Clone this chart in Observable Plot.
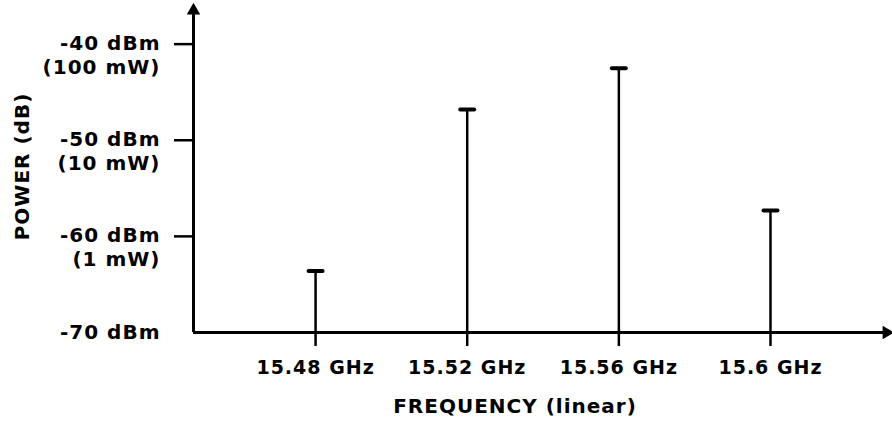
<!DOCTYPE html>
<html><head><meta charset="utf-8">
<script src="https://cdn.jsdelivr.net/npm/d3@7"></script>
<script src="https://cdn.jsdelivr.net/npm/@observablehq/plot@0.6"></script>
<style>
html,body{margin:0;padding:0;background:#fff}
svg text{letter-spacing:1px}
</style>
</head><body><div id="chart"></div>
<script>
const frequencies = [15.48, 15.52, 15.56, 15.6];
const powers = [-63.6, -46.8, -42.5, -57.3];
const xTickLabels = ["15.48 GHz", "15.52 GHz", "15.56 GHz", "15.6 GHz"];
const yTicks = [-40, -50, -60, -70];
const yTickLabels = ["-40 dBm\n(100 mW)", "-50 dBm\n(10 mW)", "-60 dBm\n(1 mW)", "-70 dBm"];
const xDomain = [15.4478, 15.6306];
const yDomain = [-70, -36.5];
const xLabel = "FREQUENCY (linear)";
const yLabel = "POWER (dB)";

const lines = frequencies.map((f, i) => ({freq: f, power: powers[i]}));
const yLabelRows = yTicks.map((v, i) => ({value: v, label: yTickLabels[i]}));
const capSymbol = {draw(ctx, size) { const r = Math.sqrt(size / Math.PI); ctx.moveTo(-r, 0); ctx.lineTo(r, 0); }};

const chart = Plot.plot({
  width: 892, height: 432,
  marginLeft: 193, marginRight: 6, marginTop: 10, marginBottom: 100,
  style: {fontFamily: "DejaVu Sans", fontWeight: "bold", color: "#000", background: "#fff", overflow: "visible"},
  x: {domain: xDomain},
  y: {domain: yDomain},
  marks: [
    Plot.axisY(yTicks.filter(d => d !== yDomain[0]), {tickSize: 19, strokeWidth: 2.5, tickFormat: () => "", label: null}),
    Plot.text(yLabelRows, {x: () => xDomain[0], y: "value", text: "label", textAnchor: "end", dx: -33,
      lineAnchor: "top", lineHeight: 1.2, dy: -11, fontSize: 20, fontWeight: "bold"}),
    Plot.axisX(frequencies, {tickSize: 14, strokeWidth: 2.5, tickPadding: 14, fontSize: 19,
      tickFormat: d => xTickLabels[frequencies.indexOf(d)], label: null}),
    Plot.ruleY([yDomain[0]], {strokeWidth: 3}),
    Plot.ruleX([xDomain[0]], {strokeWidth: 3}),
    Plot.dot([[xDomain[0], yDomain[1]]], {x: d => d[0], y: d => d[1], symbol: "triangle", r: 5, fill: "black", stroke: "none"}),
    Plot.dot([[xDomain[1], yDomain[0]]], {x: d => d[0], y: d => d[1], symbol: "triangle", r: 5, rotate: 90, fill: "black", stroke: "none"}),
    Plot.ruleX(lines, {x: "freq", y1: yDomain[0], y2: "power", strokeWidth: 2.5}),
    Plot.dot(lines, {x: "freq", y: "power", symbol: capSymbol, r: 7, fill: "none", stroke: "black", strokeWidth: 4, strokeLinecap: "round"}),
    Plot.text([yLabel], {frameAnchor: "left", textAnchor: "middle", rotate: -90, dx: -171, dy: -5, fontSize: 20, fontWeight: "bold"}),
    Plot.text([xLabel], {frameAnchor: "bottom", dy: 80, dx: -25, fontSize: 20, fontWeight: "bold"})
  ]
});
document.getElementById("chart").append(chart);
</script>
</body></html>
